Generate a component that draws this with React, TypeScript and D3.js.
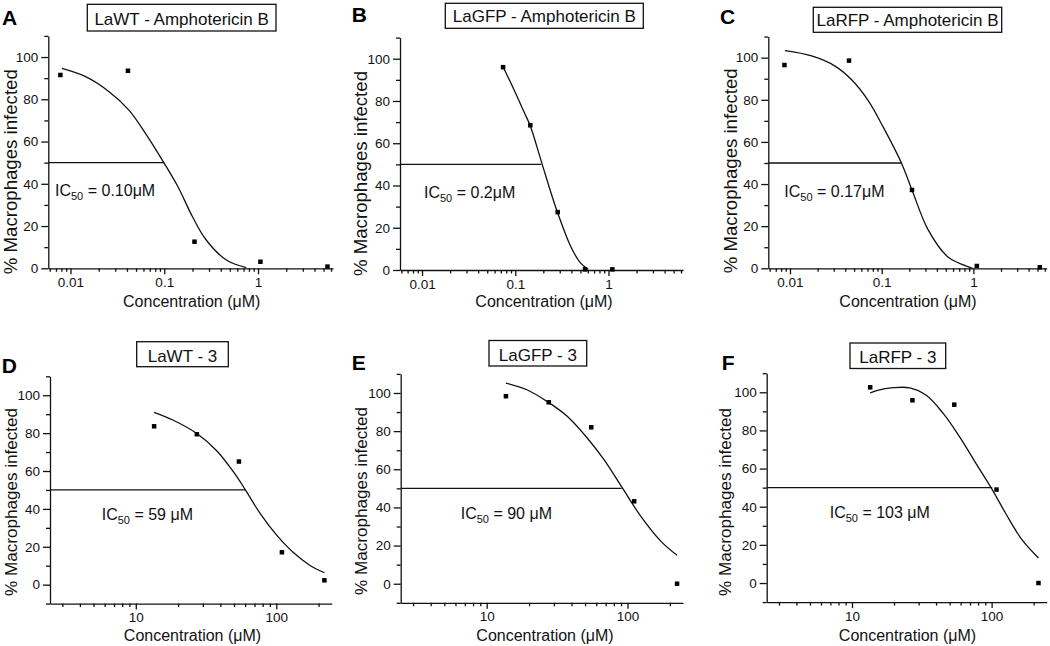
import React, { useEffect, useRef } from "react";
import * as d3 from "d3";

// panel texts
const letters = ["A", "B", "C", "D", "E", "F"];
const titles = [
  "LaWT - Amphotericin B",
  "LaGFP - Amphotericin B",
  "LaRFP - Amphotericin B",
  "LaWT - 3",
  "LaGFP - 3",
  "LaRFP - 3",
];
const ic50Values = ["0.10μM", "0.2μM", "0.17μM", "59 μM", "90 μM", "103 μM"];
// where the 50% line meets the fitted curve (µM)
const ic50LineEnd = [0.1, 0.19, 0.165, 60, 91, 101];

// measured points: concentration (µM) / % macrophages infected
const concA = [0.0078, 0.041, 0.21, 1.06, 5.5];
const pctA = [91.5, 93.5, 12.6, 3.1, 0.8];
const concB = [0.074, 0.145, 0.285, 0.56, 1.1];
const pctB = [96, 68.5, 27.4, 0.3, 0.3];
const concC = [0.0087, 0.044, 0.214, 1.09, 5.3];
const pctC = [96.5, 98.6, 37.2, 1.1, 0.5];
const concD = [13.5, 27.2, 54.2, 109.7, 220];
const pctD = [83.6, 79.4, 65, 17.1, 2.3];
const concE = [13.7, 27.6, 55.3, 111.6, 225];
const pctE = [98.3, 95.1, 82, 43.2, 0];
const concF = [13.5, 27.1, 54, 108.4, 216.6];
const pctF = [102.6, 95.8, 93.5, 49, 0];

// fitted curves
const fitConcA = [0.0081, 0.0145, 0.0258, 0.042, 0.063, 0.1, 0.14, 0.2, 0.28, 0.46, 0.75];
const fitPctA = [94.6, 90.7, 83.6, 74.9, 63.9, 49.7, 38.6, 24.4, 13.4, 3.9, 0.3];
const fitConcB = [0.074, 0.1, 0.125, 0.145, 0.192, 0.243, 0.285, 0.39, 0.497, 0.606];
const fitPctB = [96.2, 84, 74.5, 68.2, 50.8, 36.2, 27, 11.5, 3.5, 0.3];
const fitConcC = [0.0088, 0.0172, 0.031, 0.047, 0.0716, 0.104, 0.164, 0.214, 0.319, 0.524, 0.79, 0.98];
const fitPctC = [103.3, 100.8, 96, 89.5, 79.5, 67, 50, 37.2, 18.5, 5.5, 1.5, 0];
const fitConcD = [13.5, 18.5, 27.2, 37.8, 49.6, 60.1, 76.9, 101, 133, 175, 220];
const fitPctD = [91, 86.8, 79.8, 70.6, 59.5, 50.2, 37.5, 26, 16.8, 10, 6.3];
const fitConcE = [13.7, 19.3, 26.8, 37.3, 51.8, 68.1, 92, 124.5, 173, 225];
const fitPctE = [105.2, 101.7, 95.6, 87.8, 76.4, 65, 50.2, 35.3, 22.2, 14.9];
const fitConcF = [13.5, 15, 19.8, 25.9, 34, 44.7, 58.7, 77, 101, 125.6, 164.8, 216.6];
const fitPctF = [99.7, 100.9, 102.4, 102.3, 98.4, 89.2, 76.9, 62.9, 49, 36.7, 22.7, 13.1];

// axes
const yTicks = [0, 20, 40, 60, 80, 100];
const yMinorTop = [10, 30, 50, 70, 90, 110];
const yMinorBottom = [-10, 10, 30, 50, 70, 90, 110];
const xTicksTop = [0.01, 0.1, 1];
const xTickLabelsTop = ["0.01", "0.1", "1"];
const xTicksBottom = [10, 100];
const xTickLabelsBottom = ["10", "100"];
const xDomainTop = [0.0058, 6.3];
const xDomainBottom = [2.45, 248];
const yDomainTop = [0, 110];
const yDomainBottom = [-10, 110];

const conc = [concA, concB, concC, concD, concE, concF];
const pct = [pctA, pctB, pctC, pctD, pctE, pctF];
const fitConc = [fitConcA, fitConcB, fitConcC, fitConcD, fitConcE, fitConcF];
const fitPct = [fitPctA, fitPctB, fitPctC, fitPctD, fitPctE, fitPctF];

// page layout of each panel (px)
const layout = [
  { x0: 48.3, x1: 333, yBase: 268.3, yTop: 35.9, letter: [2, 25], box: [87.3, 4.3, 188.7, 26.7], titleY: 25, yLab: [16.7, 171.7], xLab: [191.7, 306.5], icDx: 6.7 },
  { x0: 400, x1: 683, yBase: 270, yTop: 37.6, letter: [351.7, 21.7], box: [445.3, 3.3, 198, 25], titleY: 21.7, yLab: [366.7, 173.5], xLab: [544, 306.5], icDx: 24 },
  { x0: 768.3, x1: 1046.7, yBase: 268.3, yTop: 36.6, letter: [720, 23.5], box: [813.3, 7.3, 188.4, 25], titleY: 26, yLab: [736.7, 170.8], xLab: [908, 306.5], icDx: 16 },
  { x0: 50, x1: 331.7, yBase: 603.6, yTop: 376.3, letter: [1.7, 373], box: [136.7, 341.7, 91.6, 25], titleY: 361.7, yLab: [16.7, 502], xLab: [192.5, 641], icDx: 51.7 },
  { x0: 400.7, x1: 683, yBase: 602.8, yTop: 373.9, letter: [351.7, 369.7], box: [489, 340.5, 97.7, 25.5], titleY: 360.5, yLab: [366.7, 501], xLab: [545, 641], icDx: 60 },
  { x0: 766.7, x1: 1046.7, yBase: 602.1, yTop: 373.2, letter: [721.7, 369.7], box: [850, 343, 95.7, 25.5], titleY: 363, yLab: [730.7, 502], xLab: [907.5, 641], icDx: 63 },
];

const FONT = "'Liberation Sans', Arial, Helvetica, sans-serif";
const INK = "#111";

const App = () => {
  const ref = useRef<SVGSVGElement>(null);

  useEffect(() => {
    const svg = d3.select(ref.current);
    svg.selectAll("*").remove();

    letters.forEach((letter, i) => {
      const L = layout[i];
      const top = i < 3;
      const x = d3.scaleLog().domain(top ? xDomainTop : xDomainBottom).range([L.x0, L.x1]);
      const y = d3.scaleLinear().domain(top ? yDomainTop : yDomainBottom).range([L.yBase, L.yTop]);
      const g = svg.append("g");

      const style = (sel: any) => {
        sel.attr("font-size", 13.5).attr("font-family", FONT);
        sel.selectAll("line,path").attr("stroke", INK).attr("stroke-width", 1.3);
        sel.selectAll("text").attr("fill", INK);
      };

      // y axis
      const yMajor = d3.axisLeft(y).tickValues(yTicks).tickSize(7).tickSizeOuter(0).tickPadding(3).tickFormat(d3.format("d"));
      g.append("g").attr("transform", `translate(${L.x0},0)`).call(yMajor).call(style);
      const yMinor = d3.axisLeft(y).tickValues(top ? yMinorTop : yMinorBottom).tickSize(4).tickFormat(() => "");
      g.append("g").attr("transform", `translate(${L.x0},0)`).call(yMinor).call(style).select(".domain").remove();

      // x axis (log)
      const majors = top ? xTicksTop : xTicksBottom;
      const majorLabels = top ? xTickLabelsTop : xTickLabelsBottom;
      const xMajor = d3.axisBottom(x).tickValues(majors).tickSize(6).tickSizeOuter(0).tickPadding(3)
        .tickFormat((_d, k) => majorLabels[k]);
      g.append("g").attr("transform", `translate(0,${L.yBase})`).call(xMajor).call(style);
      const minors = x.ticks().filter((v) => Math.abs(Math.log10(v) - Math.round(Math.log10(v))) > 1e-6);
      const xMinor = d3.axisBottom(x).tickValues(minors).tickSize(3.5).tickFormat(() => "");
      g.append("g").attr("transform", `translate(0,${L.yBase})`).call(xMinor).call(style).select(".domain").remove();

      // 50% line up to the curve
      g.append("line")
        .attr("x1", L.x0).attr("x2", x(ic50LineEnd[i]))
        .attr("y1", y(50)).attr("y2", y(50))
        .attr("stroke", INK).attr("stroke-width", 1.3);

      // fitted curve
      const pts = fitConc[i].map((c, k) => [c, fitPct[i][k]] as [number, number]);
      const line = d3.line<[number, number]>()
        .x((d) => x(d[0]))
        .y((d) => y(d[1]))
        .curve(d3.curveCatmullRom.alpha(0.5));
      g.append("path").attr("d", line(pts)).attr("fill", "none").attr("stroke", INK).attr("stroke-width", 1.3);

      // measured points
      const sq = 4.5;
      g.selectAll("rect.pt")
        .data(conc[i].map((c, k) => [c, pct[i][k]]))
        .enter()
        .append("rect")
        .attr("class", "pt")
        .attr("x", (d) => x(d[0]) - sq / 2)
        .attr("y", (d) => y(d[1]) - sq / 2)
        .attr("width", sq)
        .attr("height", sq)
        .attr("fill", "#000");

      // IC50 label
      const ic = g.append("text")
        .attr("x", L.x0 + L.icDx).attr("y", y(34))
        .attr("font-family", FONT).attr("font-size", 16).attr("fill", INK)
        .style("white-space", "pre");
      ic.append("tspan").text("IC");
      ic.append("tspan").attr("font-size", 11).attr("dy", 4).text("50");
      ic.append("tspan").attr("dy", -4).text(" = " + ic50Values[i]);

      // panel letter
      g.append("text")
        .attr("x", L.letter[0]).attr("y", L.letter[1])
        .attr("font-family", FONT).attr("font-size", 21).attr("font-weight", "bold").attr("fill", "#000")
        .text(letter);

      // title box
      const [bx, by, bw, bh] = L.box;
      g.append("rect").attr("x", bx).attr("y", by).attr("width", bw).attr("height", bh)
        .attr("fill", "#fff").attr("stroke", INK).attr("stroke-width", 1.3);
      g.append("text")
        .attr("x", bx + bw / 2).attr("y", L.titleY)
        .attr("text-anchor", "middle")
        .attr("font-family", FONT).attr("font-size", 17).attr("fill", INK)
        .text(titles[i]);

      // axis titles
      g.append("text")
        .attr("transform", `translate(${L.yLab[0]},${L.yLab[1]}) rotate(-90)`)
        .attr("text-anchor", "middle")
        .attr("font-family", FONT).attr("font-size", top ? 18 : 17).attr("fill", INK)
        .attr("textLength", top ? 205 : 188).attr("lengthAdjust", "spacingAndGlyphs")
        .text("% Macrophages infected");
      g.append("text")
        .attr("x", L.xLab[0]).attr("y", L.xLab[1])
        .attr("text-anchor", "middle")
        .attr("font-family", FONT).attr("font-size", 16).attr("fill", INK)
        .text("Concentration (μM)");
    });
  }, []);

  return (
    <svg
      ref={ref}
      width={1050}
      height={646}
      style={{ position: "absolute", left: 0, top: 0, background: "#fff" }}
    />
  );
};

export default App;
